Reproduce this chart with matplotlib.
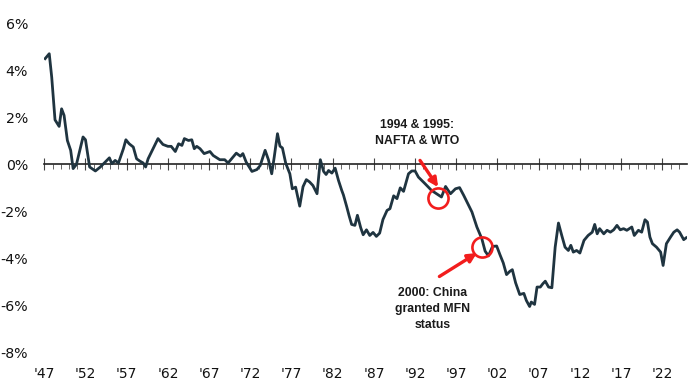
import matplotlib
matplotlib.use("Agg")
import matplotlib.pyplot as plt

# ---- data: trade balance as % of GDP ----
years = [1947.1, 1947.6, 1947.9, 1948.3, 1948.8, 1949.1, 1949.4, 1949.8, 1950.2, 1950.5,
         1950.9, 1951.7, 1952.0, 1952.5, 1953.2, 1953.8, 1954.4, 1954.9, 1955.2, 1955.6,
         1956.0, 1956.6, 1956.9, 1957.3, 1957.8, 1958.2, 1958.6, 1959.0, 1959.3, 1959.6,
         1960.2, 1960.8, 1961.4, 1962.0, 1962.4, 1962.9, 1963.3, 1963.7, 1964.0, 1964.5,
         1964.9, 1965.2, 1965.5, 1965.9, 1966.4, 1967.1, 1967.5, 1968.3, 1968.9, 1969.3,
         1969.9, 1970.3, 1970.8, 1971.1, 1971.5, 1972.2, 1972.8, 1973.2, 1973.8, 1974.2,
         1974.6, 1974.9, 1975.3, 1975.6, 1975.9, 1976.3, 1976.8, 1977.1, 1977.5, 1978.0,
         1978.4, 1978.8, 1979.2, 1979.6, 1980.1, 1980.5, 1980.9, 1981.2, 1981.5, 1981.9,
         1982.3, 1982.7, 1983.1, 1983.3, 1983.7, 1984.0, 1984.3, 1984.7, 1985.0, 1985.4,
         1985.7, 1986.1, 1986.5, 1986.9, 1987.3, 1987.7, 1988.1, 1988.6, 1988.95, 1989.4,
         1989.8, 1990.2, 1990.6, 1991.2, 1991.6, 1992.0, 1992.4, 1993.2, 1994.0, 1994.6,
         1995.2, 1995.7, 1996.0, 1996.3, 1996.9, 1997.4, 1997.9, 1998.5, 1998.9, 1999.5,
         2000.1, 2000.5, 2000.9, 2001.4, 2001.9, 2002.3, 2002.7, 2003.1, 2003.5, 2003.8,
         2004.2, 2004.7, 2005.2, 2005.5, 2005.9, 2006.1, 2006.5, 2006.8, 2007.2, 2007.5,
         2007.8, 2008.2, 2008.6, 2009.0, 2009.4, 2009.8, 2010.2, 2010.6, 2010.9, 2011.2,
         2011.6, 2012.0, 2012.5, 2013.0, 2013.5, 2013.8, 2014.1, 2014.4, 2014.9, 2015.3,
         2015.7, 2016.1, 2016.5, 2016.9, 2017.3, 2017.7, 2018.3, 2018.6, 2019.1, 2019.5,
         2019.9, 2020.2, 2020.5, 2020.8, 2021.3, 2021.8, 2022.1, 2022.5, 2023.0, 2023.4,
         2023.8, 2024.1, 2024.6, 2024.9]
balance = [4.51, 4.72, 3.72, 1.90, 1.62, 2.37, 2.09, 1.02, 0.60, -0.18,
           0.00, 1.17, 1.05, -0.11, -0.28, -0.11, 0.10, 0.28, 0.03, 0.17,
           0.06, 0.67, 1.05, 0.88, 0.74, 0.24, 0.14, 0.06, -0.11, 0.24,
           0.67, 1.10, 0.85, 0.77, 0.77, 0.55, 0.88, 0.81, 1.10, 1.02,
           1.05, 0.67, 0.77, 0.67, 0.46, 0.55, 0.38, 0.20, 0.20, 0.06,
           0.31, 0.48, 0.35, 0.46, 0.10, -0.30, -0.22, -0.05, 0.60, 0.20,
           -0.40, 0.30, 1.31, 0.78, 0.70, 0.05, -0.40, -1.04, -0.97, -1.78,
           -0.95, -0.65, -0.75, -0.90, -1.25, 0.20, -0.30, -0.43, -0.26, -0.37,
           -0.16, -0.68, -1.11, -1.30, -1.80, -2.20, -2.56, -2.60, -2.17, -2.70,
           -3.00, -2.79, -3.03, -2.90, -3.07, -2.93, -2.35, -1.96, -1.89, -1.34,
           -1.46, -1.00, -1.15, -0.40, -0.28, -0.28, -0.54, -0.82, -1.11, -1.25,
           -1.39, -0.94, -1.10, -1.25, -1.04, -0.99, -1.32, -1.75, -2.03, -2.67,
           -3.17, -3.70, -3.90, -3.50, -3.48, -3.85, -4.20, -4.70, -4.56, -4.49,
           -5.05, -5.55, -5.50, -5.80, -6.06, -5.87, -5.97, -5.23, -5.23, -5.09,
           -4.98, -5.23, -5.26, -3.53, -2.50, -3.03, -3.53, -3.67, -3.45, -3.74,
           -3.67, -3.78, -3.24, -3.03, -2.89, -2.56, -2.96, -2.74, -2.96, -2.81,
           -2.89, -2.79, -2.60, -2.79, -2.74, -2.81, -2.67, -3.03, -2.81, -2.89,
           -2.36, -2.46, -3.10, -3.38, -3.53, -3.74, -4.31, -3.38, -3.10, -2.89,
           -2.79, -2.89, -3.21, -3.13]

y_ticks = [6, 4, 2, 0, -2, -4, -6, -8]
y_tick_labels = ["6%", "4%", "2%", "0%", "-2%", "-4%", "-6%", "-8%"]
x_major = list(range(1947, 2025, 5))
x_tick_labels = ["'%02d" % (y % 100) for y in x_major]
x_minor = list(range(1947, 2025))

note1 = "1994 & 1995:\nNAFTA & WTO"
note2 = "2000: China\ngranted MFN\nstatus"
circle_pts_x = [1994.78, 2000.15]
circle_pts_y = [-1.44, -3.52]

LINE = "#1f3440"
RED = "#f21d1d"

fig = plt.figure(figsize=(7.0, 3.89), dpi=100)
ax = fig.add_axes([44.3 / 700, 37 / 389, (687 - 44.3) / 700, 328.3 / 389])

ax.plot(years, balance, color=LINE, lw=2.0, solid_joinstyle="round", zorder=3)

ax.set_xlim(1947, 2025)
ax.set_ylim(-8, 6)

for s in ["top", "right", "left"]:
    ax.spines[s].set_visible(False)
ax.spines["bottom"].set_position(("data", 0))
ax.spines["bottom"].set_color("#222222")
ax.spines["bottom"].set_linewidth(1.2)
ax.spines["bottom"].set_zorder(2)

ax.set_xticks(x_major)
ax.set_xticks(x_minor, minor=True)
ax.tick_params(axis="x", which="major", direction="inout", length=8, width=0.8,
               color="#444444", labelbottom=False)
ax.tick_params(axis="x", which="minor", direction="out", length=3.5, width=0.7,
               color="#666666")

ax.set_yticks(y_ticks)
ax.set_yticklabels(y_tick_labels)
ax.tick_params(axis="y", length=0, pad=11.7, labelsize=10.2, labelcolor="#111111")

sec = ax.secondary_xaxis("bottom")
sec.set_xticks(x_major)
sec.set_xticklabels(x_tick_labels)
sec.tick_params(axis="x", length=0, pad=11, labelsize=10, labelcolor="#111111")
sec.spines["bottom"].set_visible(False)

# circles
ax.plot(circle_pts_x, circle_pts_y, linestyle="none", marker="o", markersize=14.5,
        markerfacecolor="none", markeredgecolor=RED, markeredgewidth=1.9, zorder=4)

# arrows
ax.annotate("", xy=(1994.8, -0.97), xytext=(1992.6, 0.17),
            arrowprops=dict(arrowstyle="-|>", color=RED, lw=2.4, mutation_scale=13,
                            shrinkA=0, shrinkB=0), zorder=5)
ax.annotate("", xy=(1999.5, -3.78), xytext=(1994.95, -4.78),
            arrowprops=dict(arrowstyle="-|>", color=RED, lw=2.4, mutation_scale=13,
                            shrinkA=0, shrinkB=0), zorder=5)

ax.text(1992.2, 1.34, note1, ha="center", va="center", fontsize=8.8,
        fontweight="bold", family="Liberation Sans", color="#1a1a1a", linespacing=1.55)
ax.text(1994.1, -6.17, note2, ha="center", va="center", fontsize=8.8,
        fontweight="bold", family="Liberation Sans", color="#1a1a1a", linespacing=1.45)

fig.savefig("out.png", dpi=100)
